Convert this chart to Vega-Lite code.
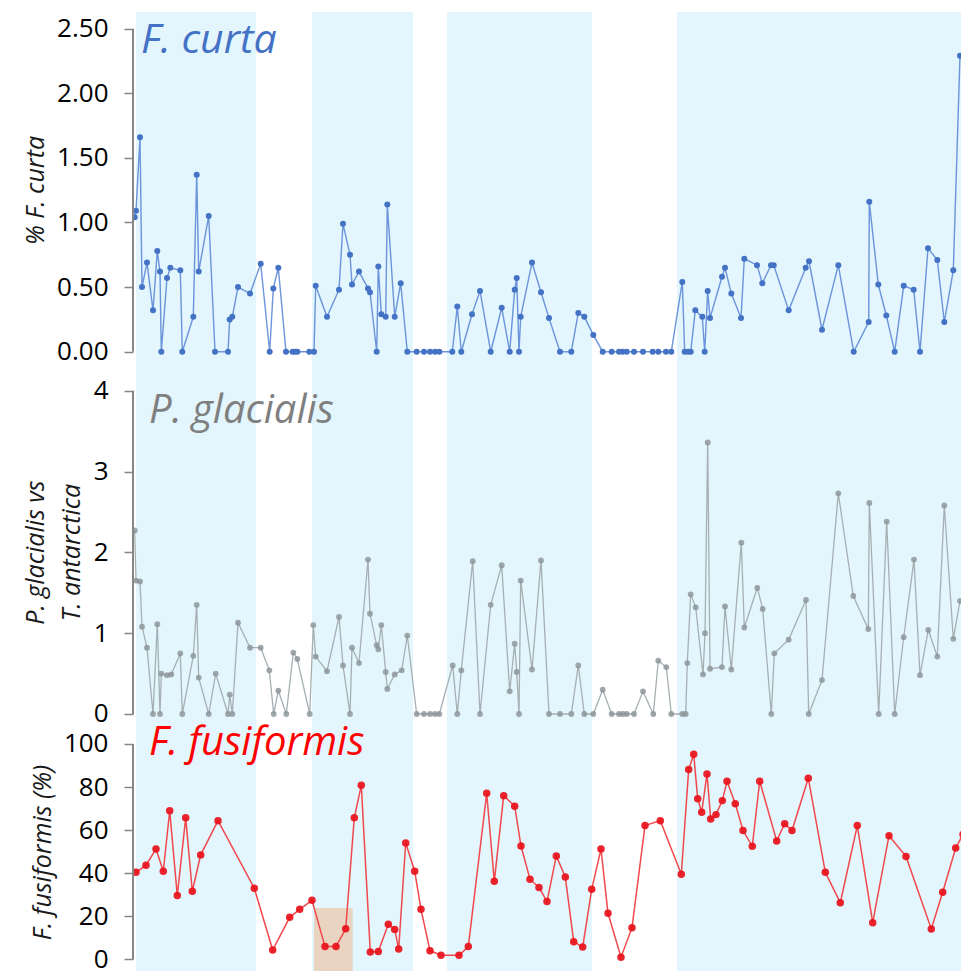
{
  "$schema": "https://vega.github.io/schema/vega-lite/v6.json",
  "padding": {"left": 23, "top": 12, "right": 0, "bottom": 1},
  "background": "white",
  "spacing": 0,
  "bounds": "flush",
  "config": {
    "view": {"stroke": null},
    "font": "Open Sans",
    "axis": {
      "domain": false, "grid": false, "tickSize": 9, "tickColor": "#868686", "tickWidth": 1.5,
      "labelFontSize": 26, "labelColor": "#000000", "labelPadding": 16,
      "titleFontStyle": "italic", "titleFontWeight": "normal", "titleFontSize": 25, "titleColor": "#1a1a1a",
      "titleAngle": 270, "titleAlign": "center", "titleBaseline": "alphabetic", "titleLineHeight": 36
    }
  },
  "datasets": {
    "bands": [
      {"start": 3, "end": 123},
      {"start": 179, "end": 280},
      {"start": 314, "end": 459},
      {"start": 544, "end": 830}
    ],
    "highlight": [{"start": 181, "end": 219.7, "top": 23.8, "bottom": -5.43}],
    "curta": [
      {"x": 1.7, "value": 1.04}, {"x": 3, "value": 1.09}, {"x": 7, "value": 1.66}, {"x": 9, "value": 0.50},
      {"x": 14, "value": 0.69}, {"x": 20, "value": 0.32}, {"x": 24.3, "value": 0.78}, {"x": 27, "value": 0.62},
      {"x": 28.3, "value": 0}, {"x": 34, "value": 0.57}, {"x": 37.3, "value": 0.65}, {"x": 47.3, "value": 0.63},
      {"x": 49.3, "value": 0}, {"x": 60.3, "value": 0.27}, {"x": 63.7, "value": 1.37}, {"x": 65.7, "value": 0.62},
      {"x": 75.7, "value": 1.05}, {"x": 82, "value": 0}, {"x": 95, "value": 0}, {"x": 96.7, "value": 0.25},
      {"x": 99.3, "value": 0.27}, {"x": 105, "value": 0.50}, {"x": 117, "value": 0.45}, {"x": 127.7, "value": 0.68},
      {"x": 136.7, "value": 0}, {"x": 140.3, "value": 0.49}, {"x": 145.3, "value": 0.65}, {"x": 153, "value": 0},
      {"x": 159.7, "value": 0}, {"x": 162, "value": 0}, {"x": 164.3, "value": 0}, {"x": 176.3, "value": 0},
      {"x": 181, "value": 0}, {"x": 182.7, "value": 0.51}, {"x": 194, "value": 0.27}, {"x": 206, "value": 0.48},
      {"x": 210, "value": 0.99}, {"x": 217, "value": 0.75}, {"x": 219, "value": 0.52}, {"x": 226, "value": 0.62},
      {"x": 235, "value": 0.49}, {"x": 237, "value": 0.46}, {"x": 243.7, "value": 0}, {"x": 245.3, "value": 0.66},
      {"x": 248.3, "value": 0.29}, {"x": 252.7, "value": 0.27}, {"x": 254.3, "value": 1.14}, {"x": 261.7, "value": 0.27},
      {"x": 267.7, "value": 0.53}, {"x": 274.3, "value": 0}, {"x": 283.7, "value": 0}, {"x": 291, "value": 0},
      {"x": 297, "value": 0}, {"x": 302, "value": 0}, {"x": 306.3, "value": 0}, {"x": 319.3, "value": 0},
      {"x": 324.3, "value": 0.35}, {"x": 328.3, "value": 0}, {"x": 339, "value": 0.29}, {"x": 347, "value": 0.47},
      {"x": 357.7, "value": 0}, {"x": 368.7, "value": 0.34}, {"x": 376.7, "value": 0}, {"x": 381.7, "value": 0.48},
      {"x": 383.7, "value": 0.57}, {"x": 386, "value": 0}, {"x": 387.7, "value": 0.27}, {"x": 399, "value": 0.69},
      {"x": 408, "value": 0.46}, {"x": 416, "value": 0.26}, {"x": 427, "value": 0}, {"x": 438.3, "value": 0},
      {"x": 445.3, "value": 0.30}, {"x": 451.3, "value": 0.27}, {"x": 460.3, "value": 0.13}, {"x": 469.7, "value": 0},
      {"x": 478.7, "value": 0}, {"x": 486, "value": 0}, {"x": 489.7, "value": 0}, {"x": 493.7, "value": 0},
      {"x": 501, "value": 0}, {"x": 510, "value": 0}, {"x": 519.7, "value": 0}, {"x": 525.3, "value": 0},
      {"x": 533, "value": 0}, {"x": 538.3, "value": 0}, {"x": 549.3, "value": 0.54}, {"x": 551.7, "value": 0},
      {"x": 555, "value": 0}, {"x": 557.7, "value": 0}, {"x": 562.3, "value": 0.32}, {"x": 569.3, "value": 0.27},
      {"x": 571.7, "value": 0}, {"x": 574.7, "value": 0.47}, {"x": 577, "value": 0.26}, {"x": 589, "value": 0.58},
      {"x": 592, "value": 0.65}, {"x": 598.3, "value": 0.45}, {"x": 608, "value": 0.26}, {"x": 611.3, "value": 0.72},
      {"x": 624, "value": 0.67}, {"x": 629.3, "value": 0.53}, {"x": 638, "value": 0.67}, {"x": 640.7, "value": 0.67},
      {"x": 655.7, "value": 0.32}, {"x": 672.7, "value": 0.65}, {"x": 676, "value": 0.70}, {"x": 689, "value": 0.17},
      {"x": 705.3, "value": 0.67}, {"x": 720.7, "value": 0}, {"x": 735.7, "value": 0.23}, {"x": 736.3, "value": 1.16},
      {"x": 745.3, "value": 0.52}, {"x": 753.3, "value": 0.28}, {"x": 761.7, "value": 0}, {"x": 770.7, "value": 0.51},
      {"x": 780.7, "value": 0.48}, {"x": 787, "value": 0}, {"x": 795, "value": 0.80}, {"x": 804.3, "value": 0.71},
      {"x": 811.3, "value": 0.23}, {"x": 820.3, "value": 0.63}, {"x": 827, "value": 2.29}
    ],
    "glacialis": [
      {"x": 1.7, "value": 2.27}, {"x": 3, "value": 1.65}, {"x": 7, "value": 1.64}, {"x": 9, "value": 1.08},
      {"x": 14, "value": 0.82}, {"x": 20, "value": 0}, {"x": 24.3, "value": 1.11}, {"x": 27, "value": 0},
      {"x": 28.3, "value": 0.50}, {"x": 34, "value": 0.48}, {"x": 38.3, "value": 0.49}, {"x": 47.3, "value": 0.75},
      {"x": 49.3, "value": 0}, {"x": 60.3, "value": 0.72}, {"x": 63.7, "value": 1.35}, {"x": 65.7, "value": 0.45},
      {"x": 75.7, "value": 0}, {"x": 82.7, "value": 0.50}, {"x": 95, "value": 0}, {"x": 96.7, "value": 0.24},
      {"x": 99.3, "value": 0}, {"x": 105, "value": 1.13}, {"x": 117, "value": 0.82}, {"x": 127.7, "value": 0.82},
      {"x": 136.3, "value": 0.54}, {"x": 140.7, "value": 0}, {"x": 145.3, "value": 0.29}, {"x": 153.3, "value": 0},
      {"x": 160.3, "value": 0.76}, {"x": 164.3, "value": 0.68}, {"x": 176.7, "value": 0}, {"x": 180.3, "value": 1.10},
      {"x": 182.7, "value": 0.71}, {"x": 194, "value": 0.53}, {"x": 206, "value": 1.20}, {"x": 210, "value": 0.60},
      {"x": 217, "value": 0}, {"x": 219, "value": 0.82}, {"x": 226, "value": 0.63}, {"x": 235, "value": 1.91},
      {"x": 237, "value": 1.24}, {"x": 243.7, "value": 0.85}, {"x": 245.3, "value": 0.80}, {"x": 248.3, "value": 1.10},
      {"x": 252.7, "value": 0.52}, {"x": 254.3, "value": 0.31}, {"x": 261.7, "value": 0.49}, {"x": 268.7, "value": 0.54},
      {"x": 274.3, "value": 0.97}, {"x": 283.7, "value": 0}, {"x": 291, "value": 0}, {"x": 297, "value": 0},
      {"x": 302, "value": 0}, {"x": 306.3, "value": 0}, {"x": 319.7, "value": 0.60}, {"x": 324.3, "value": 0},
      {"x": 328.3, "value": 0.54}, {"x": 339.7, "value": 1.89}, {"x": 347, "value": 0}, {"x": 357.7, "value": 1.35},
      {"x": 368.7, "value": 1.84}, {"x": 376.7, "value": 0.28}, {"x": 381.7, "value": 0.87}, {"x": 383.7, "value": 0.52},
      {"x": 386, "value": 0}, {"x": 387.7, "value": 1.65}, {"x": 399, "value": 0.55}, {"x": 408, "value": 1.90},
      {"x": 416, "value": 0}, {"x": 427, "value": 0}, {"x": 438.3, "value": 0}, {"x": 445.3, "value": 0.60},
      {"x": 451.3, "value": 0}, {"x": 460.3, "value": 0}, {"x": 469.7, "value": 0.30}, {"x": 478.7, "value": 0},
      {"x": 486, "value": 0}, {"x": 489.7, "value": 0}, {"x": 493.7, "value": 0}, {"x": 501, "value": 0},
      {"x": 510, "value": 0.28}, {"x": 520.3, "value": 0}, {"x": 525.3, "value": 0.66}, {"x": 533.3, "value": 0.58},
      {"x": 538.3, "value": 0}, {"x": 549.3, "value": 0}, {"x": 552.7, "value": 0}, {"x": 554.3, "value": 0.63},
      {"x": 557.7, "value": 1.48}, {"x": 562.7, "value": 1.32}, {"x": 570, "value": 0.49}, {"x": 572, "value": 1.00},
      {"x": 574.7, "value": 3.36}, {"x": 577, "value": 0.56}, {"x": 589, "value": 0.58}, {"x": 592, "value": 1.33},
      {"x": 598.3, "value": 0.55}, {"x": 608.3, "value": 2.12}, {"x": 611.3, "value": 1.07}, {"x": 624.3, "value": 1.56},
      {"x": 629.7, "value": 1.30}, {"x": 638.3, "value": 0}, {"x": 641.3, "value": 0.75}, {"x": 655.7, "value": 0.92},
      {"x": 673, "value": 1.41}, {"x": 675.7, "value": 0}, {"x": 689, "value": 0.42}, {"x": 705.3, "value": 2.73},
      {"x": 720.3, "value": 1.46}, {"x": 735.3, "value": 1.05}, {"x": 736.3, "value": 2.61}, {"x": 745.7, "value": 0},
      {"x": 753.7, "value": 2.38}, {"x": 761.7, "value": 0}, {"x": 770.7, "value": 0.95}, {"x": 781, "value": 1.91},
      {"x": 787, "value": 0.48}, {"x": 795.3, "value": 1.04}, {"x": 804.3, "value": 0.71}, {"x": 811.3, "value": 2.58},
      {"x": 820.3, "value": 0.93}, {"x": 827, "value": 1.40}
    ],
    "fusiformis": [
      {"x": 3, "value": 40.4}, {"x": 13, "value": 43.7}, {"x": 23, "value": 51.2}, {"x": 30.3, "value": 40.9},
      {"x": 36.7, "value": 69.0}, {"x": 44.3, "value": 29.6}, {"x": 52.7, "value": 65.8}, {"x": 59.3, "value": 31.6},
      {"x": 67.7, "value": 48.5}, {"x": 85, "value": 64.4}, {"x": 121.3, "value": 33.0}, {"x": 139.7, "value": 4.3},
      {"x": 156.7, "value": 19.5}, {"x": 166.7, "value": 23.2}, {"x": 179, "value": 27.4}, {"x": 192, "value": 5.9},
      {"x": 203, "value": 5.9}, {"x": 212.7, "value": 14.2}, {"x": 221.3, "value": 65.8}, {"x": 228.3, "value": 80.8},
      {"x": 237.3, "value": 3.4}, {"x": 245.3, "value": 3.6}, {"x": 255.3, "value": 16.3}, {"x": 261.7, "value": 13.9},
      {"x": 265.7, "value": 4.8}, {"x": 272.7, "value": 54.0}, {"x": 281.7, "value": 40.9}, {"x": 288, "value": 23.2},
      {"x": 297, "value": 4.0}, {"x": 308, "value": 1.9}, {"x": 326, "value": 1.9}, {"x": 335.3, "value": 5.9},
      {"x": 353.7, "value": 77.1}, {"x": 361.3, "value": 36.2}, {"x": 370.7, "value": 76.0}, {"x": 381.7, "value": 71.1},
      {"x": 388, "value": 52.6}, {"x": 397, "value": 37.2}, {"x": 406, "value": 33.4}, {"x": 414, "value": 26.8},
      {"x": 423.3, "value": 48.0}, {"x": 432.3, "value": 38.2}, {"x": 440.7, "value": 8.2}, {"x": 449.7, "value": 5.7},
      {"x": 458.7, "value": 32.5}, {"x": 468, "value": 51.2}, {"x": 475, "value": 21.4}, {"x": 488, "value": 1.0},
      {"x": 499, "value": 14.7}, {"x": 512, "value": 62.1}, {"x": 527.3, "value": 64.4}, {"x": 548.3, "value": 39.5},
      {"x": 555.7, "value": 88.2}, {"x": 560.7, "value": 95.2}, {"x": 564.7, "value": 74.6}, {"x": 568.7, "value": 68.3},
      {"x": 574, "value": 86.1}, {"x": 577.7, "value": 65.2}, {"x": 583, "value": 67.2}, {"x": 589.3, "value": 73.7},
      {"x": 594, "value": 82.7}, {"x": 602.3, "value": 72.3}, {"x": 610, "value": 59.8}, {"x": 619.3, "value": 52.5},
      {"x": 626.7, "value": 82.7}, {"x": 643.7, "value": 55.0}, {"x": 651.7, "value": 63.0}, {"x": 659, "value": 59.8},
      {"x": 675.3, "value": 84.1}, {"x": 692.3, "value": 40.4}, {"x": 707.3, "value": 26.3}, {"x": 724.3, "value": 62.1},
      {"x": 739.7, "value": 17.0}, {"x": 756, "value": 57.4}, {"x": 773, "value": 47.8}, {"x": 798.3, "value": 14.1},
      {"x": 809.7, "value": 31.1}, {"x": 822.7, "value": 51.7}, {"x": 830, "value": 58.0}
    ]
  },
  "vconcat": [
    {
      "width": 828, "height": 360,
      "layer": [
        {"data": {"name": "bands"}, "mark": {"type": "rect", "color": "#E3F5FD"},
         "encoding": {"x": {"field": "start", "type": "quantitative", "scale": {"domain": [0, 828], "nice": false, "zero": false}, "axis": null}, "x2": {"field": "end"}}},
        {"data": {"name": "curta"}, "mark": {"type": "line", "color": "#5D89D6", "strokeWidth": 1.4, "opacity": 0.9, "clip": true},
         "encoding": {"x": {"field": "x", "type": "quantitative", "scale": {"domain": [0, 828], "nice": false, "zero": false}, "axis": null},
                      "y": {"field": "value", "type": "quantitative", "scale": {"domain": [-0.157, 2.629], "nice": false, "zero": false},
                            "axis": {"values": [0, 0.5, 1, 1.5, 2, 2.5], "format": ".2f", "title": "% F. curta", "titleX": -90, "titleY": 178}}}},
        {"data": {"name": "curta"}, "mark": {"type": "circle", "color": "#4472C4", "size": 36, "opacity": 1, "clip": true},
         "encoding": {"x": {"field": "x", "type": "quantitative", "scale": {"domain": [0, 828], "nice": false, "zero": false}, "axis": null},
                      "y": {"field": "value", "type": "quantitative"}}},
        {"data": {"values": [{}]}, "mark": {"type": "rule", "color": "#868686", "strokeWidth": 2},
         "encoding": {"x": {"datum": 0, "type": "quantitative"}, "y": {"datum": 0, "type": "quantitative"}, "y2": {"datum": 2.5}}},
        {"data": {"values": [{}]}, "mark": {"type": "text", "text": "F. curta", "font": "Open Sans", "fontSize": 41, "fontStyle": "italic", "color": "#4472C4", "align": "left", "baseline": "alphabetic"},
         "encoding": {"x": {"datum": 8, "type": "quantitative"}, "y": {"datum": 2.31, "type": "quantitative"}}}
      ]
    },
    {
      "width": 828, "height": 358,
      "layer": [
        {"data": {"name": "bands"}, "mark": {"type": "rect", "color": "#E3F5FD"},
         "encoding": {"x": {"field": "start", "type": "quantitative", "scale": {"domain": [0, 828], "nice": false, "zero": false}, "axis": null}, "x2": {"field": "end"}}},
        {"data": {"name": "glacialis"}, "mark": {"type": "line", "color": "#A6B0B4", "strokeWidth": 1.3, "clip": true},
         "encoding": {"x": {"field": "x", "type": "quantitative", "scale": {"domain": [0, 828], "nice": false, "zero": false}, "axis": null},
                      "y": {"field": "value", "type": "quantitative", "scale": {"domain": [-0.198, 4.231], "nice": false, "zero": false},
                            "axis": {"values": [0, 1, 2, 3, 4], "format": "d", "title": ["P. glacialis vs", "T. antarctica"], "titleX": -90, "titleY": 180}}}},
        {"data": {"name": "glacialis"}, "mark": {"type": "circle", "color": "#8A9296", "size": 34, "opacity": 0.8, "clip": true},
         "encoding": {"x": {"field": "x", "type": "quantitative", "scale": {"domain": [0, 828], "nice": false, "zero": false}, "axis": null},
                      "y": {"field": "value", "type": "quantitative"}}},
        {"data": {"values": [{}]}, "mark": {"type": "rule", "color": "#868686", "strokeWidth": 2},
         "encoding": {"x": {"datum": 0, "type": "quantitative"}, "y": {"datum": 0, "type": "quantitative"}, "y2": {"datum": 4}}},
        {"data": {"values": [{}]}, "mark": {"type": "text", "text": "P. glacialis", "font": "Open Sans", "fontSize": 40, "fontStyle": "italic", "color": "#7F7F7F", "align": "left", "baseline": "alphabetic"},
         "encoding": {"x": {"datum": 16, "type": "quantitative"}, "y": {"datum": 3.6, "type": "quantitative"}}}
      ]
    },
    {
      "width": 828, "height": 241,
      "layer": [
        {"data": {"name": "bands"}, "mark": {"type": "rect", "color": "#E3F5FD"},
         "encoding": {"x": {"field": "start", "type": "quantitative", "scale": {"domain": [0, 828], "nice": false, "zero": false}, "axis": null}, "x2": {"field": "end"}}},
        {"data": {"name": "highlight"}, "mark": {"type": "rect", "color": "#E8D4C0"},
         "encoding": {"x": {"field": "start", "type": "quantitative", "scale": {"domain": [0, 828], "nice": false, "zero": false}, "axis": null}, "x2": {"field": "end"},
                      "y": {"field": "top", "type": "quantitative", "scale": {"domain": [-5.43, 106.5], "nice": false, "zero": false}}, "y2": {"field": "bottom"}}},
        {"data": {"name": "fusiformis"}, "mark": {"type": "line", "color": "#F0484C", "strokeWidth": 1.5, "clip": true},
         "encoding": {"x": {"field": "x", "type": "quantitative", "scale": {"domain": [0, 828], "nice": false, "zero": false}, "axis": null},
                      "y": {"field": "value", "type": "quantitative", "scale": {"domain": [-5.43, 106.5], "nice": false, "zero": false},
                            "axis": {"values": [0, 20, 40, 60, 80, 100], "format": "d", "title": "F. fusiformis (%)", "titleX": -83, "titleY": 122}}}},
        {"data": {"name": "fusiformis"}, "mark": {"type": "circle", "color": "#E8111B", "size": 56, "opacity": 0.92, "clip": true},
         "encoding": {"x": {"field": "x", "type": "quantitative", "scale": {"domain": [0, 828], "nice": false, "zero": false}, "axis": null},
                      "y": {"field": "value", "type": "quantitative"}}},
        {"data": {"values": [{}]}, "mark": {"type": "rule", "color": "#868686", "strokeWidth": 2},
         "encoding": {"x": {"datum": 0, "type": "quantitative"}, "y": {"datum": 0, "type": "quantitative"}, "y2": {"datum": 100}}},
        {"data": {"values": [{}]}, "mark": {"type": "text", "text": "F. fusiformis", "font": "Open Sans", "fontSize": 40, "fontStyle": "italic", "color": "#FF0000", "align": "left", "baseline": "alphabetic"},
         "encoding": {"x": {"datum": 16, "type": "quantitative"}, "y": {"datum": 94.9, "type": "quantitative"}}}
      ]
    }
  ]
}
